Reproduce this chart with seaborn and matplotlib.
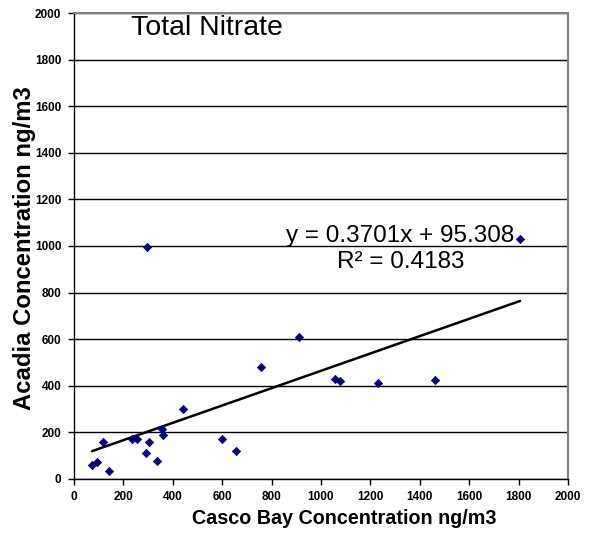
import numpy as np
import pandas as pd
import seaborn as sns
import matplotlib.pyplot as plt

# valeurs (ng/m3)
casco_bay = [73, 93, 119, 142, 235, 256, 291, 296, 305, 336, 358, 362, 441,
             599, 656, 758, 910, 1055, 1077, 1232, 1462, 1806]
acadia = [60, 73, 159, 33, 172, 170, 113, 996, 157, 77, 214, 187, 302,
          172, 122, 482, 611, 428, 421, 411, 425, 1029]

title = "Total Nitrate"
equation = "y = 0.3701x + 95.308"
r_squared = "R² = 0.4183"
ticks = list(range(0, 2001, 200))

df = pd.DataFrame({"casco": casco_bay, "acadia": acadia})

sns.set_style("white")
plt.rcParams["font.family"] = ["Liberation Sans", "DejaVu Sans"]
plt.rcParams["text.color"] = "black"
plt.rcParams["axes.labelcolor"] = "black"
plt.rcParams["xtick.color"] = "black"
plt.rcParams["ytick.color"] = "black"

fig = plt.figure(figsize=(5.89, 5.44), dpi=100)
ax = fig.add_axes([0.1256, 0.1195, 0.8387, 0.8566])

sns.regplot(data=df, x="casco", y="acadia", ax=ax, scatter=False, ci=None,
            line_kws={"color": "black", "linewidth": 1.8})
sns.scatterplot(data=df, x="casco", y="acadia", ax=ax, marker="D", s=18,
                color="#000080", edgecolor="#000080", linewidth=0.5, zorder=3)

ax.set_xlim(0, 2000)
ax.set_ylim(0, 2000)
ax.set_xticks(ticks)
ax.set_yticks(ticks)
ax.tick_params(axis="both", direction="out", length=4, width=1, labelsize=8.5,
               color="black", labelcolor="black", left=True, bottom=True, pad=5)
for lab in ax.get_xticklabels() + ax.get_yticklabels():
    lab.set_fontweight("bold")

ax.yaxis.grid(True, color="black", linewidth=1)
ax.xaxis.grid(False)
ax.set_axisbelow(True)

for side in ["left", "bottom"]:
    ax.spines[side].set_color("black")
    ax.spines[side].set_linewidth(1)
for side in ["top", "right"]:
    ax.spines[side].set_color("#808080")
    ax.spines[side].set_linewidth(1.5)

ax.set_xlabel("Casco Bay Concentration ng/m3", fontsize=14.2, fontweight="bold")
ax.set_ylabel("Acadia Concentration ng/m3", fontsize=17.2, fontweight="bold")
ax.xaxis.set_label_coords(0.547, -0.084)
ax.yaxis.set_label_coords(-0.101, 0.496)
ax.xaxis.label.set_va("center")
ax.yaxis.label.set_va("center")

ax.text(538, 1936, title, fontsize=20.5, ha="center", va="center", color="black")
ax.text(1320, 1043, equation, fontsize=17.5, ha="center", va="center", color="black")
ax.text(1325, 931, r_squared, fontsize=17.5, ha="center", va="center", color="black")

fig.savefig("out.png", dpi=100)
